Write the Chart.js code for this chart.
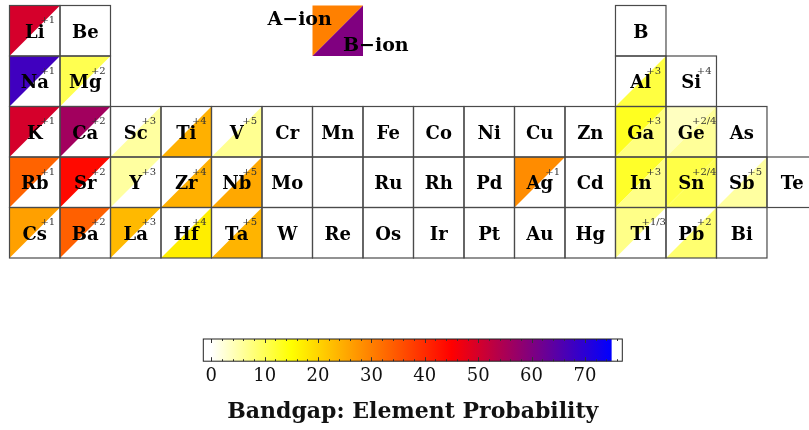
<!DOCTYPE html>
<html>
<head>
<meta charset="utf-8">
<script src="https://cdn.jsdelivr.net/npm/chart.js@4"></script>
<style>
  html, body { margin: 0; padding: 0; background: #fff; width: 809px; height: 430px; overflow: hidden; }
  #table { position: absolute; left: 0; top: 0; }
  #bar { position: absolute; left: 0; top: 330px; }
</style>
</head>
<body>
<canvas id="table" width="809" height="262"></canvas>
<canvas id="bar" width="809" height="100"></canvas>
<script>
// Element symbols, laid out by group column and period row
const symbols = [
  'Li','Be','B',
  'Na','Mg','Al','Si',
  'K','Ca','Sc','Ti','V','Cr','Mn','Fe','Co','Ni','Cu','Zn','Ga','Ge','As',
  'Rb','Sr','Y','Zr','Nb','Mo','','Ru','Rh','Pd','Ag','Cd','In','Sn','Sb','Te',
  'Cs','Ba','La','Hf','Ta','W','Re','Os','Ir','Pt','Au','Hg','Tl','Pb','Bi'
];
const columns = [
  1,2,13,
  1,2,13,14,
  1,2,3,4,5,6,7,8,9,10,11,12,13,14,15,
  1,2,3,4,5,6,7,8,9,10,11,12,13,14,15,16,
  1,2,3,4,5,6,7,8,9,10,11,12,13,14,15
];
const rows = [
  1,1,1,
  2,2,2,2,
  3,3,3,3,3,3,3,3,3,3,3,3,3,3,3,
  4,4,4,4,4,4,4,4,4,4,4,4,4,4,4,4,
  5,5,5,5,5,5,5,5,5,5,5,5,5,5,5
];
// Oxidation state shown in the corner of each cell
const oxidation = [
  '+1','','',
  '+1','+2','+3','+4',
  '+1','+2','+3','+4','+5','','','','','','','','+3','+2/4','',
  '+1','+2','+3','+4','+5','','','','','','+1','','+3','+2/4','+5','',
  '+1','+2','+3','+4','+5','','','','','','','','+1/3','+2',''
];
// Probability (%) of the element on the A site (upper-left triangle)
const aIon = [
  50, null, null,
  67.5, 10.3, null, null,
  50, 56, null, null, null, null, null, null, null, null, null, null, 13.1, 3.7, null,
  33.3, 44, 5.6, null, null, null, null, null, null, null, 28.5, null, 12.6, 10.8, null, null,
  26.2, 33.7, 23.2, null, null, null, null, null, null, null, null, null, 7, null, null
];
// Probability (%) of the element on the B site (lower-right triangle)
const bIon = [
  null, null, null,
  null, null, 11.2, null,
  null, null, 5.6, 24.3, 6.5, null, null, null, null, null, null, null, 7.5, 6, null,
  null, null, null, 24.3, 25.2, null, null, null, null, null, null, null, 7, 10, 5.6, null,
  null, null, null, 17, 23.8, null, null, null, null, null, null, null, null, 8.4, null
];
// Key square: A-ion / B-ion example values
const legendLabels = ['A\u2212ion', 'B\u2212ion'];
const legendValues = [30, 60];
const legendColumn = 7, legendRow = 1;

// Colour scale
const cmapValues = [0, 15, 45, 75];
const cmapColors = [[255,255,255],[255,255,0],[255,0,0],[0,0,255]];
const tickValues = [0, 10, 20, 30, 40, 50, 60, 70];
const barMin = -1.5, barMax = 77;

function colorFor(v) {
  if (v <= cmapValues[0]) return `rgb(${cmapColors[0].join(',')})`;
  for (let i = 1; i < cmapValues.length; i++) {
    if (v <= cmapValues[i]) {
      const t = (v - cmapValues[i-1]) / (cmapValues[i] - cmapValues[i-1]);
      const a = cmapColors[i-1], b = cmapColors[i];
      return `rgb(${a.map((c,k)=>Math.round(c + (b[k]-c)*t)).join(',')})`;
    }
  }
  return `rgb(${cmapColors[cmapColors.length-1].join(',')})`;
}

const SERIF = '"DejaVu Serif", "Liberation Serif", serif';

function cellBox(x, y, col, row) {
  const x0 = x.getPixelForValue(col - 0.5), x1 = x.getPixelForValue(col + 0.5);
  const y0 = y.getPixelForValue(row - 0.5), y1 = y.getPixelForValue(row + 0.5);
  return {x0, x1, y0, y1};
}

function triangles(ctx, b, a, bb) {
  if (a !== null && a !== undefined) {
    ctx.fillStyle = colorFor(a);
    ctx.beginPath();
    ctx.moveTo(b.x0, b.y0); ctx.lineTo(b.x1, b.y0); ctx.lineTo(b.x0, b.y1);
    ctx.closePath(); ctx.fill();
  }
  if (bb !== null && bb !== undefined) {
    ctx.fillStyle = colorFor(bb);
    ctx.beginPath();
    ctx.moveTo(b.x1, b.y0); ctx.lineTo(b.x1, b.y1); ctx.lineTo(b.x0, b.y1);
    ctx.closePath(); ctx.fill();
  }
}

const cellPlugin = {
  id: 'elementCells',
  afterDatasetsDraw(chart) {
    const {ctx, scales: {x, y}} = chart;
    ctx.save();
    // coloured halves
    symbols.forEach((s, i) => {
      const b = cellBox(x, y, columns[i], rows[i]);
      ctx.fillStyle = '#fff';
      ctx.fillRect(b.x0, b.y0, b.x1 - b.x0, b.y1 - b.y0);
      triangles(ctx, b, aIon[i], bIon[i]);
    });
    // key square
    const k = cellBox(x, y, legendColumn, legendRow);
    triangles(ctx, k, legendValues[0], legendValues[1]);
    // cell borders
    ctx.strokeStyle = '#4a4a4a';
    ctx.lineWidth = 1.2;
    symbols.forEach((s, i) => {
      const b = cellBox(x, y, columns[i], rows[i]);
      ctx.strokeRect(b.x0, b.y0, b.x1 - b.x0, b.y1 - b.y0);
    });
    // labels
    ctx.textAlign = 'center';
    ctx.textBaseline = 'middle';
    symbols.forEach((s, i) => {
      const b = cellBox(x, y, columns[i], rows[i]);
      const cx = (b.x0 + b.x1) / 2, cy = (b.y0 + b.y1) / 2;
      ctx.fillStyle = '#000';
      ctx.font = `bold 18px ${SERIF}`;
      ctx.fillText(s, cx, cy + 2.5);
      if (oxidation[i]) {
        ctx.fillStyle = '#333';
        ctx.font = `10px ${SERIF}`;
        ctx.fillText(oxidation[i], cx + 13, b.y0 + 15);
      }
    });
    ctx.fillStyle = '#000';
    ctx.font = `bold 19px ${SERIF}`;
    ctx.textAlign = 'left';
    ctx.fillText(legendLabels[0], k.x0 - 45, k.y0 + 15);
    ctx.fillText(legendLabels[1], k.x0 + 30.5, k.y0 + 41);
    ctx.restore();
  }
};

new Chart(document.getElementById('table'), {
  type: 'scatter',
  data: {
    datasets: [{
      data: symbols.map((s, i) => ({x: columns[i], y: rows[i]})),
      pointRadius: 0
    }]
  },
  options: {
    responsive: false,
    animation: false,
    events: [],
    layout: {padding: {left: 9.5, right: 0, top: 5.5, bottom: 4}},
    plugins: {legend: {display: false}, tooltip: {enabled: false}},
    scales: {
      x: {type: 'linear', min: 0.5, max: 16.332, display: false},
      y: {type: 'linear', min: 0.5, max: 5.5, reverse: true, display: false}
    }
  },
  plugins: [cellPlugin]
});

const colorbarPlugin = {
  id: 'colorbar',
  beforeDatasetsDraw(chart) {
    const {ctx, chartArea: ca, scales: {x}} = chart;
    ctx.save();
    const vMin = cmapValues[0], vMax = cmapValues[cmapValues.length - 1];
    const p0 = x.getPixelForValue(vMin);
    const p1 = x.getPixelForValue(vMax);
    const g = ctx.createLinearGradient(p0, 0, p1, 0);
    cmapValues.forEach((v, i) => {
      g.addColorStop((v - vMin) / (vMax - vMin), `rgb(${cmapColors[i].join(',')})`);
    });
    ctx.fillStyle = '#fff';
    ctx.fillRect(ca.left, ca.top, ca.right - ca.left, ca.bottom - ca.top);
    ctx.fillStyle = g;
    ctx.fillRect(p0, ca.top, p1 - p0, ca.bottom - ca.top);
    // tick marks along both edges
    ctx.strokeStyle = '#333';
    ctx.lineWidth = 1;
    for (let v = 0; v <= barMax; v += 2) {
      const px = Math.round(x.getPixelForValue(v)) + 0.5;
      const len = v % 10 === 0 ? 4 : 2;
      ctx.beginPath();
      ctx.moveTo(px, ca.top); ctx.lineTo(px, ca.top + len);
      ctx.moveTo(px, ca.bottom); ctx.lineTo(px, ca.bottom - len);
      ctx.stroke();
    }
    ctx.strokeStyle = '#222';
    ctx.strokeRect(ca.left, ca.top, ca.right - ca.left, ca.bottom - ca.top);
    ctx.restore();
  }
};

new Chart(document.getElementById('bar'), {
  type: 'scatter',
  data: {datasets: [{data: [], pointRadius: 0}]},
  options: {
    responsive: false,
    animation: false,
    events: [],
    layout: {padding: {left: 203.3, right: 186.7, top: 9, bottom: 0}},
    plugins: {
      legend: {display: false},
      tooltip: {enabled: false},
      title: {
        display: true, position: 'bottom', text: 'Bandgap: Element Probability', color: '#111',
        font: {family: 'DejaVu Serif', size: 22, weight: 'bold', lineHeight: 1.2},
        padding: {top: 7.8, bottom: 5}
      }
    },
    scales: {
      x: {
        type: 'linear', min: barMin, max: barMax,
        afterBuildTicks(axis) { axis.ticks = tickValues.map(v => ({value: v})); },
        grid: {display: false, drawTicks: false},
        border: {display: false},
        ticks: {font: {family: 'DejaVu Serif', size: 18}, color: '#111', padding: 4, maxRotation: 0, autoSkip: false}
      },
      y: {type: 'linear', min: 0, max: 1, display: false}
    }
  },
  plugins: [colorbarPlugin]
});
</script>
</body>
</html>
